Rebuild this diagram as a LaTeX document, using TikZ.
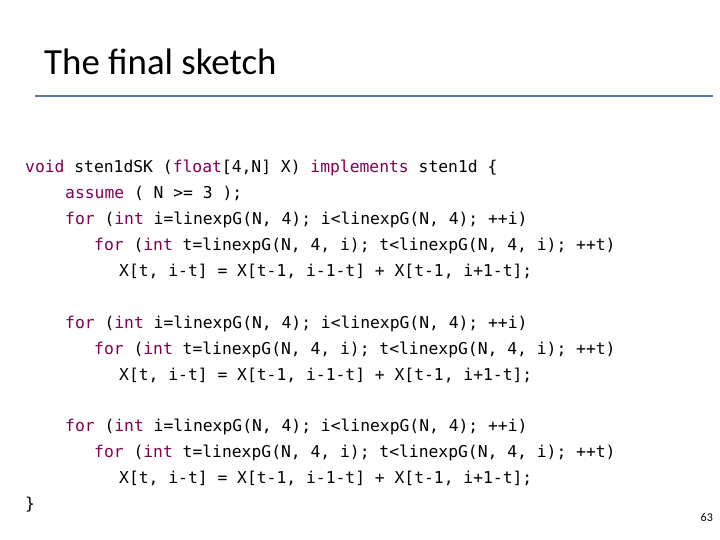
\documentclass[tikz,border=0pt]{standalone}
\usepackage{fontspec}
\setmainfont{Carlito}
\newfontfamily\codefont{DejaVu Sans Mono}
\definecolor{kw}{RGB}{127,0,85}
\definecolor{rulecol}{RGB}{84,120,170}
\newcommand{\kw}[1]{\textcolor{kw}{#1}}
\tikzset{code/.style={anchor=base west,inner sep=0pt,font=\codefont\fontsize{16.4}{18}\selectfont}}
\begin{document}
\begin{tikzpicture}[x=1bp,y=-1bp]
\useasboundingbox[fill=white] (0,0) rectangle (720,540);
%title
\node[anchor=base west,inner sep=0pt,font=\fontsize{37}{40}\selectfont] (title) at (44,75) {The final sketch};
\draw[rulecol,line width=1.2pt] (35,96) -- (713,96);
%code
\node[code] (l1) at (25,173) {\kw{void} sten1dSK (\kw{float}[4,N] X) \kw{implements} sten1d \{};
\node[code] (l2) at (65,199) {\kw{assume} ( N >= 3 );};
\foreach \y [count=\k] in {225,328,431}{
\node[code] (fi\k) at (65,\y) {\kw{for} (\kw{int} i=linexpG(N, 4); i<linexpG(N, 4); ++i)};
\node[code] (ft\k) at (94,\y+26) {\kw{for} (\kw{int} t=linexpG(N, 4, i); t<linexpG(N, 4, i); ++t)};
\node[code] (st\k) at (119,\y+52) {X[t, i-t] = X[t-1, i-1-t] + X[t-1, i+1-t];};
}
\node[code] (close) at (25,509) {\}};
%page
\node[anchor=base east,inner sep=0pt,font=\fontsize{12}{14}\selectfont] (page) at (713,521) {63};
\end{tikzpicture}
\end{document}
